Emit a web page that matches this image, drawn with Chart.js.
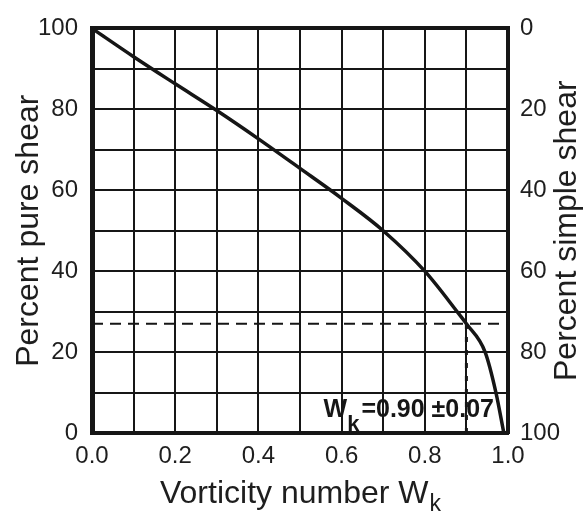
<!DOCTYPE html>
<html>
<head>
<meta charset="utf-8">
<script src="https://cdn.jsdelivr.net/npm/chart.js@4.4.1/dist/chart.umd.min.js"></script>
<style>
  html, body { margin: 0; padding: 0; background: #fff; }
  #wrap { width: 587px; height: 515px; }
</style>
</head>
<body>
<div id="wrap"><canvas id="chart" width="587" height="515"></canvas></div>
<script>
// values
const wkValues = [0, 0.1, 0.2, 0.3, 0.4, 0.5, 0.6, 0.7, 0.8, 0.88, 0.9, 0.945, 0.971, 0.99];
const pureShear = [100, 93, 86.3, 79.7, 72.7, 65.4, 58, 50, 40, 29.7, 27, 20, 10, 0];

const xTickLabels = ["0.0", "", "0.2", "", "0.4", "", "0.6", "", "0.8", "", "1.0"];
const yTickLabels = ["0", "", "20", "", "40", "", "60", "", "80", "", "100"];
const y2TickValues = [0, 20, 40, 60, 80, 100];
const y2TickLabels = ["0", "20", "40", "60", "80", "100"];

// estimate marked on the plot
const estWk = 0.90;
const estPureShear = 27;
const estLabel = ["W", "k", "=0.90 \u00b10.07"];

const xTitle = ["Vorticity number W", "k"];
const yTitle = "Percent pure shear";
const y2Title = "Percent simple shear";

const FONT = '"Liberation Sans", Arial, Helvetica, sans-serif';
const INK = "#161616";

const curvePoints = wkValues.map((x, i) => ({ x: x, y: pureShear[i] }));

// titles and the Wk label are drawn here (subscripts + right title reads bottom-up)
const textPlugin = {
    id: "textPlugin",
    afterDraw(chart) {
        const ctx = chart.ctx;
        const a = chart.chartArea;
        const midY = (a.top + a.bottom) / 2;
        ctx.save();
        ctx.fillStyle = "#1e1e1e";

        // x axis title with subscript k
        ctx.textAlign = "left";
        ctx.textBaseline = "alphabetic";
        ctx.font = "32px " + FONT;
        const w1 = ctx.measureText(xTitle[0]).width;
        ctx.font = "23px " + FONT;
        const w2 = ctx.measureText(xTitle[1]).width;
        const x0 = (a.left + a.right) / 2 - (w1 + w2) / 2;
        ctx.font = "32px " + FONT;
        ctx.fillText(xTitle[0], x0, 503);
        ctx.font = "23px " + FONT;
        ctx.fillText(xTitle[1], x0 + w1 + 1, 511);

        // left and right titles, both reading bottom to top
        ctx.textAlign = "center";
        ctx.textBaseline = "middle";
        ctx.font = "32px " + FONT;
        [[29, yTitle], [567, y2Title]].forEach(([tx, txt]) => {
            ctx.save();
            ctx.translate(tx, midY);
            ctx.rotate(-Math.PI / 2);
            ctx.fillText(txt, 0, 0);
            ctx.restore();
        });

        // Wk = 0.90 +- 0.07
        ctx.textAlign = "left";
        ctx.textBaseline = "alphabetic";
        ctx.fillStyle = INK;
        ctx.font = "bold 25px " + FONT;
        const wW = ctx.measureText(estLabel[0]).width;
        const wRest = ctx.measureText(estLabel[2]).width;
        ctx.font = "bold 22px " + FONT;
        const wK = ctx.measureText(estLabel[1]).width;
        const right = a.right - 14;
        const start = right - wRest - wK - wW - 2;
        const base = a.bottom - 16;
        ctx.font = "bold 25px " + FONT;
        ctx.fillText(estLabel[0], start, base);
        ctx.fillText(estLabel[2], start + wW + wK + 2, base);
        ctx.font = "bold 22px " + FONT;
        ctx.fillText(estLabel[1], start + wW, base + 14);
        ctx.restore();
    }
};

new Chart(document.getElementById("chart"), {
    type: "scatter",
    data: {
        datasets: [
            {
                data: curvePoints,
                showLine: true,
                borderColor: INK,
                borderWidth: 3.5,
                pointRadius: 0,
                cubicInterpolationMode: "monotone"
            },
            {
                data: [{ x: 0, y: estPureShear }, { x: 1, y: estPureShear }],
                showLine: true,
                borderColor: INK,
                borderWidth: 2,
                borderDash: [11, 7],
                pointRadius: 0
            },
            {
                data: [{ x: estWk, y: 0 }, { x: estWk, y: estPureShear }],
                showLine: true,
                borderColor: INK,
                borderWidth: 3,
                borderDash: [5, 8],
                pointRadius: 0
            }
        ]
    },
    options: {
        responsive: false,
        animation: false,
        devicePixelRatio: 1,
        layout: { padding: { top: 20, left: 0, right: 0, bottom: 0 } },
        plugins: {
            legend: { display: false },
            tooltip: { enabled: false }
        },
        scales: {
            x: {
                type: "linear",
                min: 0,
                max: 1,
                afterFit: s => { s.height = 82; },
                ticks: {
                    stepSize: 0.1,
                    autoSkip: false,
                    maxRotation: 0,
                    padding: 9,
                    color: "#1e1e1e",
                    font: { family: FONT, size: 24 },
                    callback: (v, i) => xTickLabels[i] ?? ""
                },
                grid: {
                    color: INK,
                    lineWidth: c => (c.index === xTickLabels.length - 1 ? 4 : 2),
                    drawTicks: false
                },
                border: { color: INK, width: 4 }
            },
            y: {
                position: "left",
                min: 0,
                max: 100,
                afterFit: s => { s.width = 92; },
                ticks: {
                    stepSize: 10,
                    autoSkip: false,
                    padding: 14,
                    color: "#1e1e1e",
                    font: { family: FONT, size: 24 },
                    callback: (v, i) => yTickLabels[i] ?? ""
                },
                grid: {
                    color: INK,
                    lineWidth: c => (c.index === yTickLabels.length - 1 ? 4 : 2),
                    drawTicks: false
                },
                border: { color: INK, width: 5 }
            },
            y2: {
                position: "right",
                min: 0,
                max: 100,
                reverse: true,
                afterFit: s => { s.width = 79; },
                ticks: {
                    stepSize: 20,
                    autoSkip: false,
                    padding: 12,
                    color: "#1e1e1e",
                    font: { family: FONT, size: 24 },
                    callback: v => y2TickLabels[y2TickValues.indexOf(v)] ?? ""
                },
                grid: { drawOnChartArea: false, drawTicks: false },
                border: { color: INK, width: 4 }
            }
        }
    },
    plugins: [textPlugin]
});
</script>
</body>
</html>
